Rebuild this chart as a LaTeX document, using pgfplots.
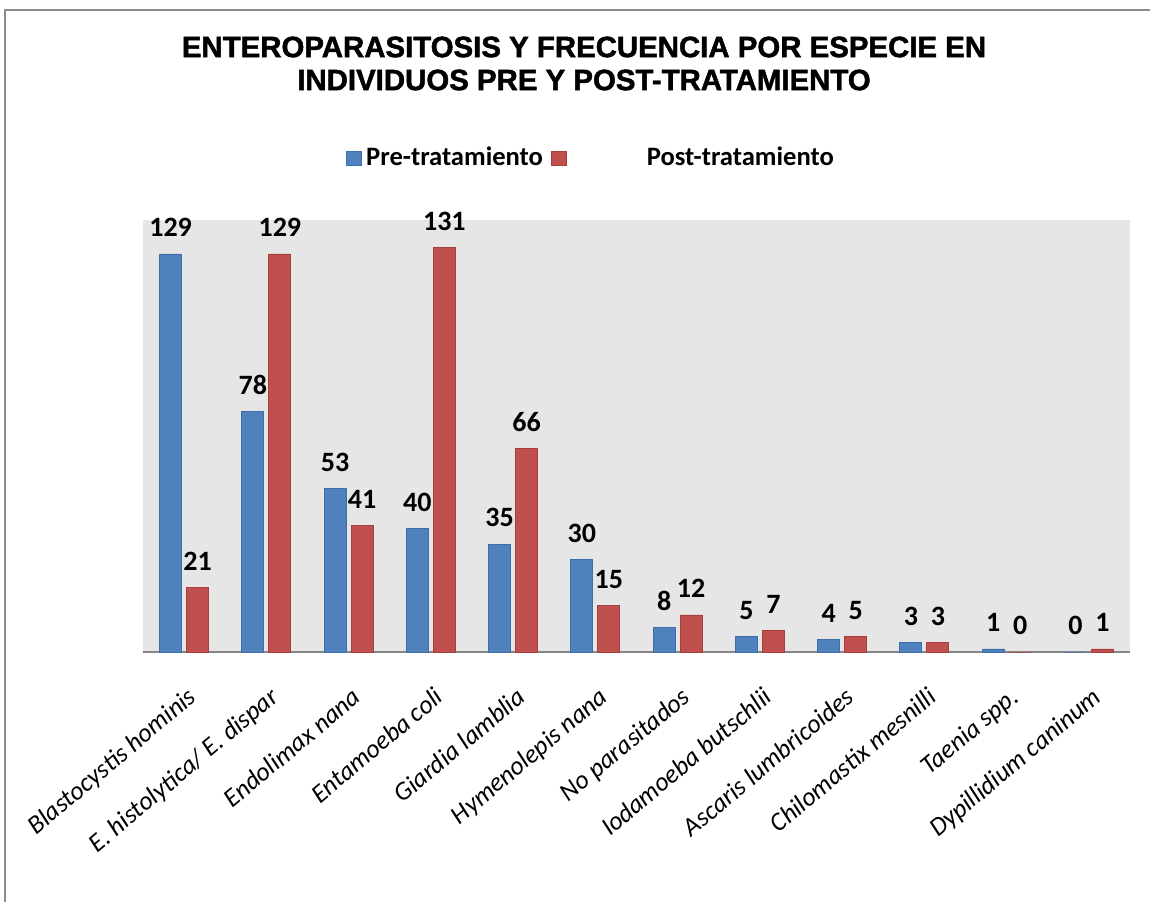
\documentclass[border=0pt]{standalone}
\usepackage{fontspec}
\setmainfont{Carlito}
\newfontfamily\titlefont{Liberation Sans}[BoldFeatures={FakeBold=1.6}]
\usepackage{pgfplots}
\pgfplotsset{compat=1.18}
\definecolor{pblue}{HTML}{4F81BD}
\definecolor{pblueb}{HTML}{3D6EAA}
\definecolor{pred}{HTML}{C0504D}
\definecolor{predb}{HTML}{A63E3B}
\definecolor{plotbg}{HTML}{E6E6E6}
\definecolor{framegray}{HTML}{8C8C8C}
\definecolor{axgray}{HTML}{868686}
\begin{document}
\begin{tikzpicture}
\path[use as bounding box] (0,0) rectangle (575pt,450.5pt);
\draw[color=framegray, line width=1pt] (2.5pt,-2pt) -- (2.5pt,445.5pt) -- (577pt,445.5pt);
\node[font=\titlefont\bfseries\fontsize{14.7}{16.5}\selectfont, align=center] at (292pt,418.75pt)
  {ENTEROPARASITOSIS Y FRECUENCIA POR ESPECIE EN\\INDIVIDUOS PRE Y POST-TRATAMIENTO};
\begin{axis}[
  at={(71.5pt,124.5pt)}, anchor=south west,
  scale only axis, width=493.5pt, height=216pt,
  ybar=2.5pt, bar width=11pt,
  xmin=-0.5, xmax=11.5, ymin=0, ymax=140,
  axis x line*=bottom, axis y line=none,
  axis line style={-, color=axgray, line width=0.7pt},
  axis background/.style={fill=plotbg},
  /pgf/number format/assume math mode=true,
  xtick={0,1,2,3,4,5,6,7,8,9,10,11},
  xticklabels={Blastocystis hominis, E. histolytica/ E. dispar, Endolimax nana, Entamoeba coli, Giardia lamblia, Hymenolepis nana, No parasitados, Iodamoeba butschlii, Ascaris lumbricoides, Chilomastix mesnilli, Taenia spp., Dypillidium caninum},
  xticklabel style={rotate=40, anchor=north east, font=\itshape\fontsize{13}{15}\selectfont, inner sep=1pt, xshift=-9pt, yshift=-12.5pt},
  major tick length=0pt,
  ytick=\empty,
  nodes near coords,
  every node near coord/.append style={font=\bfseries\fontsize{14}{16}\selectfont, color=black, yshift=5pt},
  legend style={at={(0.455,1.1435)}, anchor=center, draw=none, fill=none, legend columns=2,
    font=\bfseries\fontsize{13.3}{15}\selectfont, /tikz/every even column/.append style={column sep=2pt}},
  legend image code/.code={\fill[#1] (0pt,-3.5pt) rectangle (7.5pt,3.5pt);},
]
\addplot[fill=pblue, draw=pblueb] coordinates {(0,129) (1,78) (2,53) (3,40) (4,35) (5,30) (6,8) (7,5) (8,4) (9,3) (10,1) (11,0)};
\addplot[fill=pred, draw=predb] coordinates {(0,21) (1,129) (2,41) (3,131) (4,66) (5,15) (6,12) (7,7) (8,5) (9,3) (10,0) (11,1)};
\legend{Pre-tratamiento, \hspace{38pt}Post-tratamiento}
\end{axis}
\end{tikzpicture}
\end{document}
